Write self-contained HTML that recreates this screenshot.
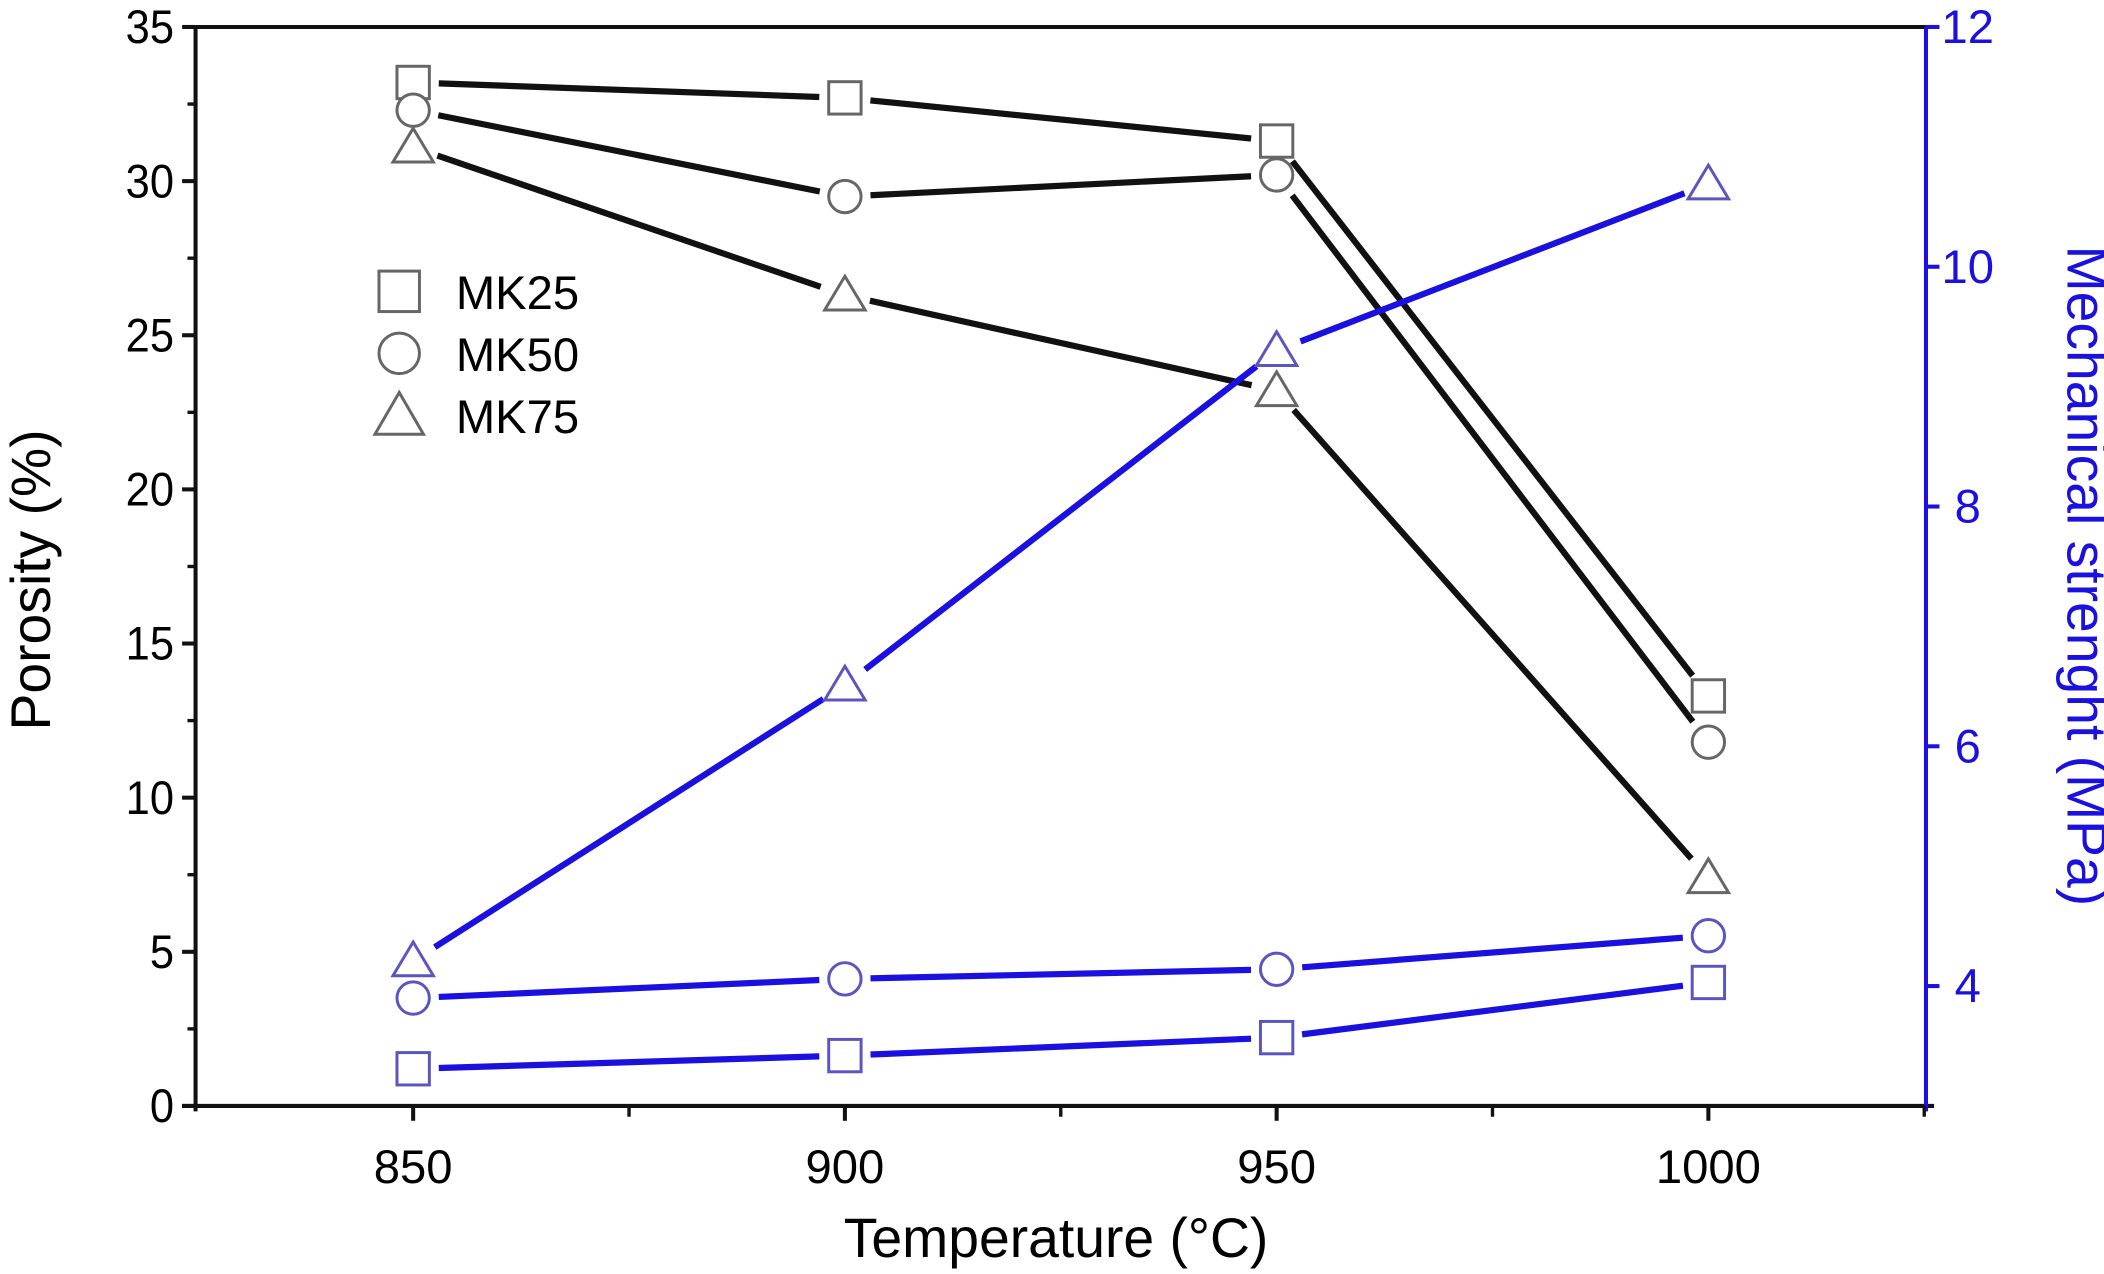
<!DOCTYPE html>
<html><head><meta charset="utf-8"><style>
html,body{margin:0;padding:0;background:#fff;}
svg{display:block;font-family:"Liberation Sans",Arial,sans-serif;}
</style></head><body>
<svg id="chart" width="2104" height="1274" viewBox="0 0 1560 944.6" xmlns="http://www.w3.org/2000/svg">
<g id="axes"></g><g id="series"></g><g id="legend"></g>
</svg>
<script>
const temps = [850, 900, 950, 1000];
const porosityMK25 = [33.2, 32.7, 31.3, 13.3];
const porosityMK50 = [32.3, 29.5, 30.2, 11.8];
const porosityMK75 = [31.1, 26.3, 23.2, 7.4];
const strengthMK25 = [3.31, 3.42, 3.57, 4.03];
const strengthMK50 = [3.90, 4.06, 4.14, 4.42];
const strengthMK75 = [4.21, 6.51, 9.30, 10.69];
const xTicks = [850, 900, 950, 1000];
const leftTicks = [0, 5, 10, 15, 20, 25, 30, 35];
const rightTicks = [4, 6, 8, 10, 12];

const L=145, R=1428, T=20, B=820;
const xMin=824.8, xMax=1025.2;
const X = v => L + (v - xMin) / (xMax - xMin) * (R - L);
const YL = v => B - v / 35 * (B - T);
const YR = v => B - (v - 3) / 9 * (B - T);
const NS = "http://www.w3.org/2000/svg";
const BLUE = "#1a10e0", BLUEM = "#5a55c0", GRAY = "#666";

function mk(tag, attrs, parent) {
  const e = document.createElementNS(NS, tag);
  for (const k in attrs) e.setAttribute(k, attrs[k]);
  parent.appendChild(e);
  return e;
}
const axes = document.getElementById('axes');
const series = document.getElementById('series');
const legend = document.getElementById('legend');

let e;
e = mk('line', {x1:L, y1:T, x2:R, y2:T, stroke:'#111', 'stroke-width':3}, axes);
 
e = mk('line', {x1:L, y1:T, x2:L, y2:B+4, stroke:'#111', 'stroke-width':3}, axes);
 
e = mk('line', {x1:L-10, y1:B, x2:R+6, y2:B, stroke:'#111', 'stroke-width':3}, axes);
 
e = mk('line', {x1:R, y1:T, x2:R, y2:B+4, stroke:BLUE, 'stroke-width':3}, axes);
 

leftTicks.forEach(v => {
  const y = YL(v);
  let t = mk('line', {x1:L-10, y1:y, x2:L, y2:y, stroke:'#111', 'stroke-width':3}, axes);
   
  let tx = mk('text', {x:L-16, y:y+12, 'text-anchor':'end', 'font-size':35, fill:'#000', transform:`translate(${L-16},0) scale(0.92,1) translate(${-(L-16)},0)`}, axes);
  tx.textContent = v;
   
  if (v < 35) {
    let m = mk('line', {x1:L-6, y1:YL(v+2.5), x2:L, y2:YL(v+2.5), stroke:'#111', 'stroke-width':2.5}, axes);
     
  }
});
rightTicks.forEach(v => {
  const y = YR(v);
  let t = mk('line', {x1:R, y1:y, x2:R+10, y2:y, stroke:BLUE, 'stroke-width':3}, axes);
   
  let tx = mk('text', {x:R+31, y:y+12, 'text-anchor':'middle', 'font-size':35, fill:BLUE}, axes);
  tx.textContent = v;
   
});
xTicks.forEach(v => {
  const x = X(v);
  let t = mk('line', {x1:x, y1:B, x2:x, y2:B+11, stroke:'#111', 'stroke-width':3}, axes);
   
  let tx = mk('text', {x:x, y:B+57, 'text-anchor':'middle', 'font-size':35, fill:'#000'}, axes);
  tx.textContent = v;
   
  let m = mk('line', {x1:X(v+25), y1:B, x2:X(v+25), y2:B+8, stroke:'#111', 'stroke-width':2.5}, axes);
   
});
e = mk('text', {x:783, y:932, 'text-anchor':'middle', 'font-size':41, fill:'#000'}, axes);
e.textContent = 'Temperature (°C)';
 
e = mk('text', {x:0, y:0, 'text-anchor':'middle', 'font-size':41, fill:'#000', transform:'translate(37,430) rotate(-90)'}, axes);
e.textContent = 'Porosity (%)';
 
e = mk('text', {x:0, y:0, 'text-anchor':'middle', 'font-size':41, fill:BLUE, transform:'translate(1533,427) rotate(90)'}, axes);
e.textContent = 'Mechanical strenght (MPa)';
 

function marker(kind, cx, cy, color, parent, s) {
  s = s || 13;
  let m;
  if (kind === 'sq') m = mk('rect', {x:cx-s+1, y:cy-s+1, width:2*s-2, height:2*s-2, fill:'#fff', stroke:color, 'stroke-width':2.2}, parent);
  else if (kind === 'ci') m = mk('circle', {cx:cx, cy:cy, r:s-1, fill:'#fff', stroke:color, 'stroke-width':2.2}, parent);
  else m = mk('polygon', {points:`${cx},${cy-s-1} ${cx-s-2},${cy+s-2} ${cx+s+2},${cy+s-2}`, fill:'#fff', stroke:color, 'stroke-width':2.2}, parent);
  return m;
}
function drawSeries(vals, yf, kind, lineColor, mColor, name) {
  const g = mk('g', {}, series);
   
  const pts = temps.map((t, i) => [X(t), yf(vals[i])]);
  const gap = 19;
  for (let i = 0; i < pts.length - 1; i++) {
    const [x1, y1] = pts[i], [x2, y2] = pts[i+1];
    const d = Math.hypot(x2-x1, y2-y1), ux = (x2-x1)/d, uy = (y2-y1)/d;
    let l = mk('line', {x1:x1+ux*gap, y1:y1+uy*gap, x2:x2-ux*gap, y2:y2-uy*gap, stroke:lineColor, 'stroke-width':4.6}, g);
     
  }
  pts.forEach(p => {
    let m = marker(kind, p[0], p[1], mColor, g);
     
  });
}
drawSeries(porosityMK25, YL, 'sq', '#111', GRAY, 'porosity-mk25');
drawSeries(porosityMK50, YL, 'ci', '#111', GRAY, 'porosity-mk50');
drawSeries(porosityMK75, YL, 'tr', '#111', GRAY, 'porosity-mk75');
drawSeries(strengthMK25, YR, 'sq', BLUE, BLUEM, 'strength-mk25');
drawSeries(strengthMK50, YR, 'ci', BLUE, BLUEM, 'strength-mk50');
drawSeries(strengthMK75, YR, 'tr', BLUE, BLUEM, 'strength-mk75');

const legItems = [['sq','MK25',216],['ci','MK50',262],['tr','MK75',308]];
legItems.forEach(it => {
  let m = marker(it[0], 296, it[2], GRAY, legend, 16);
   
  let t = mk('text', {x:338, y:it[2]+13, 'font-size':35, fill:'#000'}, legend);
  t.textContent = it[1];
   
});
</script>
</body></html>
